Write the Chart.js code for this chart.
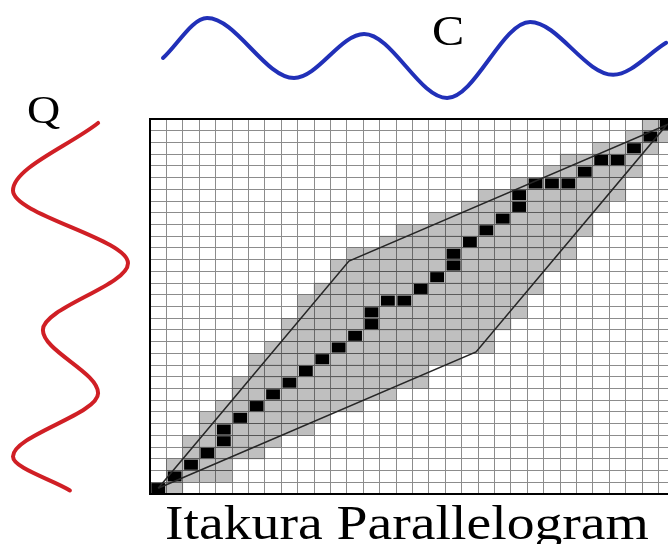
<!DOCTYPE html>
<html>
<head>
<meta charset="utf-8">
<script src="https://cdn.jsdelivr.net/npm/chart.js@4.4.0/dist/chart.umd.min.js"></script>
<style>
  html, body { margin: 0; padding: 0; width: 668px; height: 544px; overflow: hidden; background: #fff; }
  .box { position: absolute; }
  .lbl {
    position: absolute;
    font-family: "Liberation Serif", "Times New Roman", serif;
    color: #000;
    line-height: 1;
    white-space: nowrap;
    transform-origin: 0 0;
  }
</style>
</head>
<body>
<div class="box" style="left:0;top:0;width:690px;height:544px"><canvas id="grid"></canvas></div>
<div class="box" style="left:0;top:0;width:690px;height:119px"><canvas id="waveC"></canvas></div>
<div class="box" style="left:0;top:0;width:150px;height:544px"><canvas id="waveQ"></canvas></div>
<div class="lbl" style="left:432px;top:10px;font-size:42px;transform:scaleX(1.15)">C</div>
<div class="lbl" style="left:27px;top:90px;font-size:40px;transform:scaleX(1.15)">Q</div>
<div class="lbl" style="left:165px;top:499px;font-size:48px;transform:scaleX(1.16)">Itakura Parallelogram</div>
<script>
// grid is 32 x 32 cells, rows counted from the bottom
const rows = [0,1,2,3,4,5,6,7,8,9,10,11,12,13,14,15,16,17,18,19,20,21,22,23,24,25,26,27,28,29,30,31];
// first / last shaded column in each row
const grayStart = [0,1,1,2,2,3,3,4,5,5,6,6,7,8,8,9,9,10,11,11,12,14,15,17,19,20,22,24,25,27,29,30];
const grayEnd   = [1,4,4,6,7,9,10,12,14,16,16,18,20,20,21,22,22,23,23,24,25,25,26,26,27,28,28,29,29,30,31,31];

// warping path cells
const pathCol = [0,1,2,3,4,4,5,6,7,8,9,10,11,12,13,13,14,15,16,17,18,18,19,20,21,22,22,23,24,25,26,27,28,29,30,31];
const pathRow = [0,1,2,3,4,5,6,7,8,9,10,11,12,13,14,15,16,16,17,18,19,20,21,22,23,24,25,26,26,26,27,28,28,29,30,31];

// parallelogram corners (cell units)
const bandX = [0.5, 12.125, 31.5, 19.875, 0.5];
const bandY = [0.5, 19.875, 31.5, 12.125, 0.5];

// series C (top, along columns) and Q (left, along rows)
const cTime  = [0.79, 3.48, 8.78, 13.05, 18.11, 23.17, 28.23, 31.46];
const cValue = [0.0, 1.0, -0.5, 0.6, -1.0, 0.9, -0.42, 0.38];
const qTime  = [31.66, 25.9, 19.7, 14.0, 8.6, 3.2, 0.3];
const qValue = [0.48, -1.0, 1.0, -0.48, 0.48, -1.0, -0.01];

const isEdge = v => v === 0 || v === 32;

const axis = () => ({
    type: 'linear',
    min: 0,
    max: 32,
    offset: false,
    ticks: { display: false, stepSize: 1, maxTicksLimit: 40 },
    grid: {
        offset: false,
        drawTicks: false,
        color: c => isEdge(c.tick.value) ? '#000' : '#8c8c8c',
        lineWidth: c => isEdge(c.tick.value) ? 2 : 1
    },
    border: { display: true, color: '#000', width: 2 }
});

new Chart(document.getElementById('grid'), {
    type: 'bar',
    data: {
        datasets: [
            {
                type: 'line',
                data: bandX.map((x, k) => ({ x: x, y: bandY[k] })),
                borderColor: '#262626',
                borderWidth: 1.6,
                pointRadius: 0,
                tension: 0,
                order: 0
            },
            {
                data: pathCol.map((c, k) => ({ y: pathRow[k] + 0.5, x: [c + 0.08, c + 0.92] })),
                backgroundColor: '#000',
                barPercentage: 0.86,
                categoryPercentage: 1,
                grouped: false,
                order: 1
            },
            {
                // translucent so the grid shows through the shaded band
                data: rows.map(j => ({ y: j + 0.5, x: [grayStart[j], grayEnd[j] + 1] })),
                backgroundColor: 'rgba(0,0,0,0.25)',
                barPercentage: 1,
                categoryPercentage: 1,
                grouped: false,
                order: 2
            }
        ]
    },
    options: {
        indexAxis: 'y',
        responsive: true,
        maintainAspectRatio: false,
        animation: false,
        events: [],
        layout: { padding: { left: 150, top: 119, right: 15, bottom: 50 } },
        plugins: { legend: { display: false }, tooltip: { enabled: false } },
        scales: { x: axis(), y: axis() }
    }
});

// top wave C
new Chart(document.getElementById('waveC'), {
    type: 'line',
    data: {
        datasets: [{
            data: cTime.map((t, k) => ({ x: t, y: cValue[k] })),
            borderColor: '#2130b8',
            borderWidth: 4,
            borderCapStyle: 'round',
            pointRadius: 0,
            cubicInterpolationMode: 'monotone',
            clip: false
        }]
    },
    options: {
        responsive: true,
        maintainAspectRatio: false,
        animation: false,
        events: [],
        layout: { padding: { left: 150, right: 15, top: 18, bottom: 21 } },
        plugins: { legend: { display: false }, tooltip: { enabled: false } },
        scales: {
            x: { type: 'linear', min: 0, max: 32, display: false },
            y: { type: 'linear', min: -1, max: 1, display: false }
        }
    }
});

// left wave Q, runs down the rows
new Chart(document.getElementById('waveQ'), {
    type: 'line',
    data: {
        datasets: [{
            data: qTime.map((t, k) => ({ y: t, x: qValue[k] })),
            borderColor: '#d01f25',
            borderWidth: 4,
            borderCapStyle: 'round',
            pointRadius: 0,
            cubicInterpolationMode: 'monotone',
            clip: false
        }]
    },
    options: {
        indexAxis: 'y',
        responsive: true,
        maintainAspectRatio: false,
        animation: false,
        events: [],
        layout: { padding: { left: 13, right: 22, top: 119, bottom: 50 } },
        plugins: { legend: { display: false }, tooltip: { enabled: false } },
        scales: {
            x: { type: 'linear', min: -1, max: 1, display: false },
            y: { type: 'linear', min: 0, max: 32, display: false }
        }
    }
});
</script>
</body>
</html>
